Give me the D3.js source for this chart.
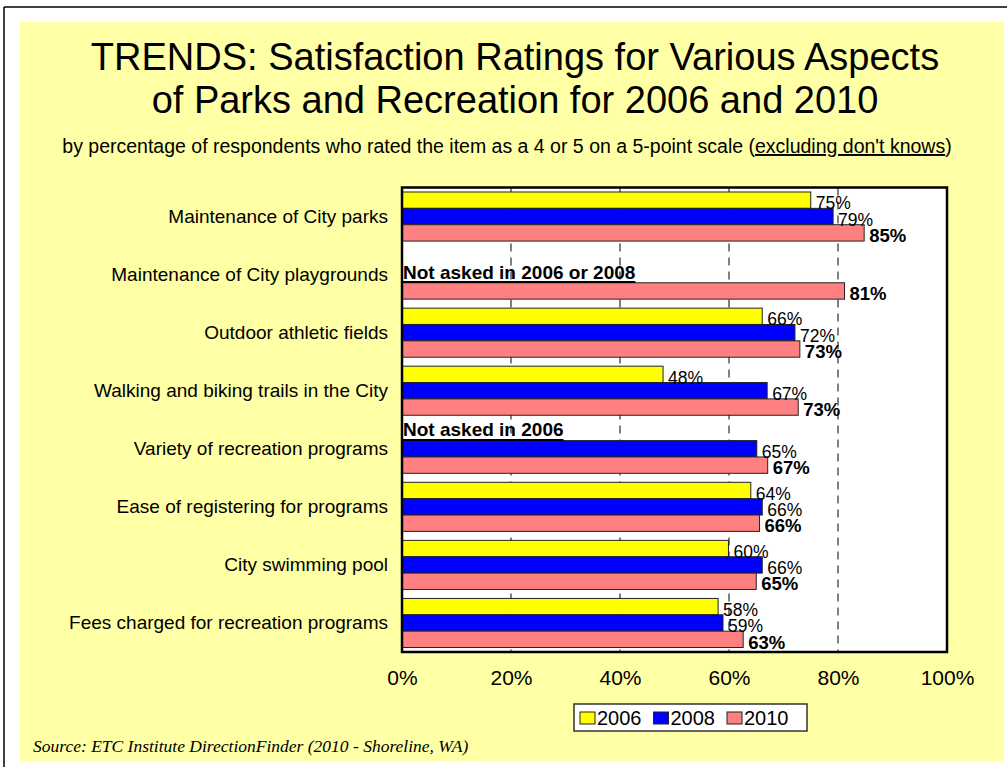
<!DOCTYPE html>
<html>
<head>
<meta charset="utf-8">
<script src="https://cdn.jsdelivr.net/npm/d3@7"></script>
<style>
  body { margin: 0; background: #fff; }
  svg { display: block; }
</style>
</head>
<body>
<svg id="chart"></svg>
<script>
// chart data
const categories = [
  "Maintenance of City parks",
  "Maintenance of City playgrounds",
  "Outdoor athletic fields",
  "Walking and biking trails in the City",
  "Variety of recreation programs",
  "Ease of registering for programs",
  "City swimming pool",
  "Fees charged for recreation programs"
];
const years = ["2006", "2008", "2010"];
const values2006 = [75.0, null, 66.1, 47.9, null, 64.0, 59.9, 58.0];
const values2008 = [79.1, null, 72.1, 67.0, 65.1, 66.1, 66.1, 58.9];
const values2010 = [84.8, 81.2, 73.0, 72.7, 67.1, 65.6, 65.0, 62.6];
const xTicks = [0, 20, 40, 60, 80, 100];
const notes = [
  { category: "Maintenance of City playgrounds", slot: "2008", text: "Not asked in 2006 or 2008" },
  { category: "Variety of recreation programs", slot: "2006", text: "Not asked in 2006" }
];

const w = 1007;
const h = 767;
const plot = { left: 402, right: 947, top: 187.5, bottom: 652 };
const colors = { "2006": "#ffff00", "2008": "#0000ff", "2010": "#ff8080" };
const font = "Arial, 'Liberation Sans', sans-serif";

const svg = d3.select("#chart").attr("width", w).attr("height", h);

// build rows out of the arrays
const series = { "2006": values2006, "2008": values2008, "2010": values2010 };
const bars = [];
categories.forEach((c, i) => {
  years.forEach(yr => {
    if (series[yr][i] != null) bars.push({ category: c, year: yr, value: series[yr][i] });
  });
});

let xScale, yScale, yInner;

const background = () => {
  svg.append("line").attr("x1", 4).attr("x2", w).attr("y1", 7).attr("y2", 7)
    .attr("stroke", "#000").attr("stroke-width", 1.5);
  svg.append("line").attr("x1", 4).attr("x2", 4).attr("y1", 7).attr("y2", h)
    .attr("stroke", "#000").attr("stroke-width", 1.5);
  svg.append("rect").attr("x", 20).attr("y", 22).attr("width", 984).attr("height", 739)
    .attr("fill", "#ffffa6");
};

const titles = () => {
  const t = svg.append("text").attr("text-anchor", "middle")
    .style("font-family", font).style("font-size", "38px").attr("fill", "#000");
  t.append("tspan").attr("x", 515).attr("y", 70).text("TRENDS: Satisfaction Ratings for Various Aspects");
  t.append("tspan").attr("x", 515).attr("y", 113).text("of Parks and Recreation for 2006 and 2010");

  const s = svg.append("text").attr("x", 507).attr("y", 153).attr("text-anchor", "middle")
    .style("font-family", font).style("font-size", "19.5px").attr("fill", "#000");
  s.append("tspan").text("by percentage of respondents who rated the item as a 4 or 5 on a 5-point scale (");
  s.append("tspan").style("text-decoration", "underline").text("excluding don't knows");
  s.append("tspan").text(")");

  svg.append("text").attr("x", 33).attr("y", 752)
    .style("font-family", "'Liberation Serif', 'Times New Roman', serif")
    .style("font-size", "17.5px").style("font-style", "italic").attr("fill", "#000")
    .text("Source:  ETC Institute DirectionFinder (2010 - Shoreline, WA)");
};

const scales = () => {
  xScale = d3.scaleLinear().domain([0, 100]).range([plot.left, plot.right]);
  yScale = d3.scaleBand().domain(categories).range([plot.top, plot.bottom])
    .paddingInner(0.155).paddingOuter(0.0775);
  yInner = d3.scaleBand().domain(years).range([0, yScale.bandwidth()]);
};

const drawPlot = () => {
  svg.append("rect").attr("x", plot.left).attr("y", plot.top)
    .attr("width", plot.right - plot.left).attr("height", plot.bottom - plot.top).attr("fill", "#fff");

  // dashed gridlines
  svg.append("g").selectAll("line").data(xTicks.filter(d => d > 0 && d < 100)).enter().append("line")
    .attr("x1", d => xScale(d)).attr("x2", d => xScale(d))
    .attr("y1", plot.top).attr("y2", plot.bottom)
    .attr("stroke", "#000").attr("stroke-width", 1).attr("stroke-dasharray", "8,6");

  svg.append("g").selectAll("rect").data(bars).enter().append("rect")
    .attr("x", xScale(0))
    .attr("y", d => yScale(d.category) + yInner(d.year))
    .attr("width", d => xScale(d.value) - xScale(0))
    .attr("height", yInner.bandwidth())
    .attr("fill", d => colors[d.year])
    .attr("stroke", "#222").attr("stroke-width", 1);

  svg.append("g").selectAll("text").data(bars).enter().append("text")
    .attr("x", d => xScale(d.value) + 5)
    .attr("y", d => yScale(d.category) + yInner(d.year) + yInner.bandwidth() + 1)
    .style("font-family", font)
    .style("font-size", d => d.year == "2010" ? "18.5px" : "17.5px")
    .style("font-weight", d => d.year == "2010" ? "bold" : "normal")
    .attr("fill", "#000")
    .text(d => Math.round(d.value) + "%");

  // notes for missing years
  notes.forEach(n => {
    const ny = yScale(n.category) + yInner(n.slot) + yInner.bandwidth() * 0.5 + 4;
    const tx = svg.append("text").attr("x", plot.left + 1).attr("y", ny)
      .style("font-family", font).style("font-size", "19px").style("font-weight", "bold")
      .attr("fill", "#000").text(n.text);
    const len = tx.node().getComputedTextLength();
    svg.append("line").attr("x1", plot.left + 1).attr("x2", plot.left + 1 + len)
      .attr("y1", ny + 3.5).attr("y2", ny + 3.5).attr("stroke", "#000").attr("stroke-width", 2);
  });

  svg.append("rect").attr("x", plot.left).attr("y", plot.top)
    .attr("width", plot.right - plot.left).attr("height", plot.bottom - plot.top)
    .attr("fill", "none").attr("stroke", "#000").attr("stroke-width", 2.5);
};

const drawAxis = () => {
  const axisX = d3.axisBottom(xScale).tickValues(xTicks).tickSize(0).tickPadding(18)
    .tickFormat(d => d + "%");
  const gx = svg.append("g").attr("transform", "translate(0," + plot.bottom + ")").call(axisX);
  gx.select(".domain").remove();
  gx.selectAll("text").style("font-family", font).style("font-size", "21px").attr("fill", "#000");

  const axisY = d3.axisLeft(yScale).tickSize(0).tickPadding(14);
  const gy = svg.append("g").attr("transform", "translate(" + plot.left + ",0)").call(axisY);
  gy.select(".domain").remove();
  gy.selectAll("text").style("font-family", font).style("font-size", "19px").attr("fill", "#000");
};

const legend = () => {
  const lg = svg.append("g").attr("transform", "translate(574,704)");
  lg.append("rect").attr("width", 233).attr("height", 27).attr("fill", "#fff")
    .attr("stroke", "#333").attr("stroke-width", 1.5);
  const item = lg.selectAll("g").data(years).enter().append("g")
    .attr("transform", (d, i) => "translate(" + (6 + i * 73.5) + ",0)");
  item.append("rect").attr("y", 8).attr("width", 15).attr("height", 12)
    .attr("fill", d => colors[d]).attr("stroke", "#222").attr("stroke-width", 1);
  item.append("text").attr("x", 17).attr("y", 21)
    .style("font-family", font).style("font-size", "20px").attr("fill", "#000").text(d => d);
};

background();
titles();
scales();
drawPlot();
drawAxis();
legend();
</script>
</body>
</html>
